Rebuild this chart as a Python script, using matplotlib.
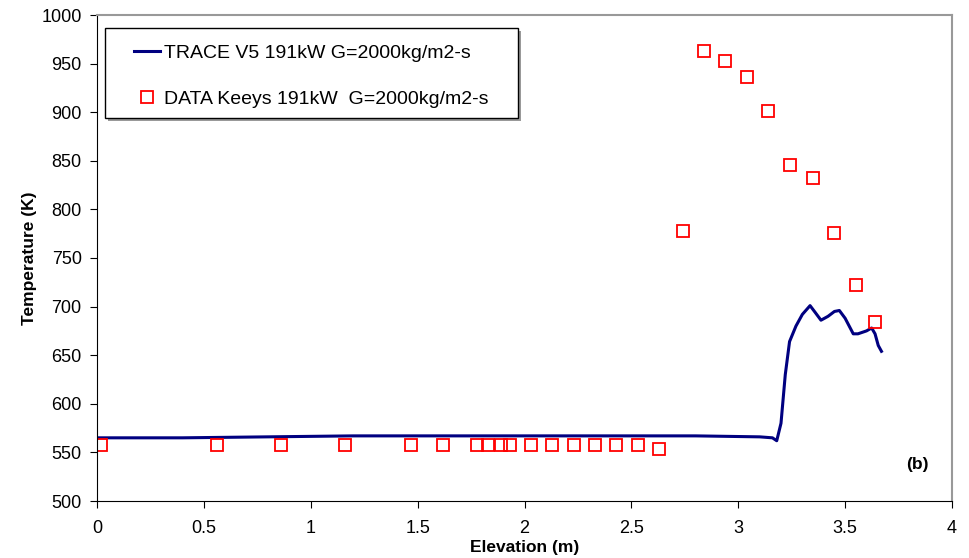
import matplotlib
matplotlib.use("Agg")
import matplotlib.pyplot as plt
from matplotlib.patches import Rectangle

plt.rcParams['font.family'] = ['Liberation Sans', 'DejaVu Sans']

# TRACE V5 calculation (line)
trace_x = [0.0, 0.4, 0.8, 1.2, 1.6, 2.0, 2.4, 2.8, 3.1, 3.16, 3.18, 3.2, 3.22, 3.24,
           3.27, 3.3, 3.336, 3.36, 3.387, 3.42, 3.45, 3.473, 3.5, 3.538, 3.56, 3.6,
           3.624, 3.64, 3.655, 3.67]
trace_y = [565, 565, 566, 567, 567, 567, 567, 567, 566, 565, 562, 580, 630, 664,
           680, 692, 701, 694, 686, 690, 695, 696, 688, 672, 672, 675,
           678, 672, 660, 654]

# Keeys data (markers)
data_x = [0.02, 0.56, 0.86, 1.16, 1.47, 1.62, 1.78, 1.83, 1.89, 1.93, 2.03, 2.13,
          2.23, 2.33, 2.43, 2.53, 2.63, 2.74, 2.84, 2.94, 3.04, 3.14, 3.24, 3.35,
          3.45, 3.55, 3.64]
data_y = [558, 558, 558, 558, 558, 558, 558, 558, 558, 558, 558, 558,
          558, 558, 558, 558, 553, 778, 963, 953, 936, 901, 846, 832,
          776, 722, 684]

W, H = 969, 558
fig = plt.figure(figsize=(W / 100, H / 100), dpi=100)
ax = fig.add_axes([97 / W, 1 - 501 / H, 855 / W, 486 / H])

l1, = ax.plot(trace_x, trace_y, color='#000080', lw=2.2)
l2, = ax.plot(data_x, data_y, ls='none', marker='s', ms=9, mfc='none', mec='#ff0000',
              mew=1.3)

ax.set_xlim(0, 4)
ax.set_ylim(500, 1000)
ax.set_xticks([0, 0.5, 1, 1.5, 2, 2.5, 3, 3.5, 4])
ax.set_xticklabels(['0', '0.5', '1', '1.5', '2', '2.5', '3', '3.5', '4'])
ax.set_yticks(range(500, 1001, 50))
ax.tick_params(direction='out', length=5, labelsize=13, colors='black')
ax.tick_params(axis='x', pad=9)
ax.tick_params(axis='y', pad=6)
for s in ['top', 'right']:
    ax.spines[s].set_color('#999999')
    ax.spines[s].set_linewidth(1.5)
for s in ['left', 'bottom']:
    ax.spines[s].set_color('black')

ax.set_xlabel('Elevation (m)', fontsize=12.5, fontweight='bold', labelpad=2)
ax.set_ylabel('Temperature (K)', fontsize=12.5, fontweight='bold', labelpad=3)

ax.text(3.84, 538, '(b)', fontsize=12.5, fontweight='bold', ha='center', va='center')

# legend box (Excel style, with shadow)
lx0, ly0, lx1, ly1 = 105, 28, 518, 118
fig.patches.append(Rectangle(((lx0 + 3) / W, 1 - (ly1 + 3) / H), (lx1 - lx0) / W,
                             (ly1 - ly0) / H, transform=fig.transFigure,
                             facecolor='#999999', edgecolor='none', zorder=5))
fig.patches.append(Rectangle((lx0 / W, 1 - ly1 / H), (lx1 - lx0) / W,
                             (ly1 - ly0) / H, transform=fig.transFigure,
                             facecolor='white', edgecolor='black', lw=1.0, zorder=6))
leg = fig.legend([l1, l2], ['TRACE V5 191kW G=2000kg/m2-s',
                            'DATA Keeys 191kW  G=2000kg/m2-s'],
                 loc='center left', bbox_to_anchor=(134 / W, 1 - 76 / H),
                 fontsize=14, frameon=False, borderpad=0, borderaxespad=0,
                 labelspacing=1.45, handlelength=1.35, handletextpad=0.2)
leg.set_zorder(7)

fig.savefig('out.png', dpi=100)
